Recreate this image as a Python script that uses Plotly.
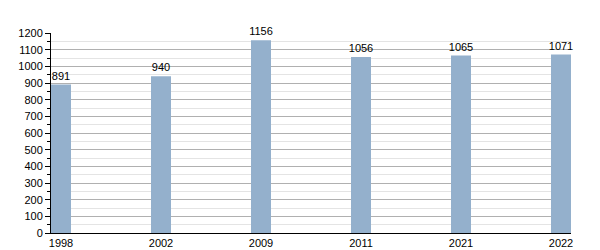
import plotly.graph_objects as go

years = ["1998", "2002", "2009", "2011", "2021", "2022"]
population = [891, 940, 1156, 1056, 1065, 1071]
y_ticks = list(range(0, 1300, 100))

bar_color = "#94b0cc"

fig = go.Figure(
    go.Bar(
        x=years,
        y=population,
        width=0.2,
        marker=dict(color=bar_color, line=dict(width=0)),
        text=[str(v) for v in population],
        textposition="outside",
        constraintext="none",
        cliponaxis=False,
        textfont=dict(family="Liberation Sans, Arial, sans-serif", size=11, color="#000"),
    )
)

fig.update_layout(
    width=600,
    height=250,
    margin=dict(l=51, r=29, t=33, b=17, autoexpand=False),
    paper_bgcolor="white",
    plot_bgcolor="white",
    showlegend=False,
    font=dict(family="Liberation Sans, Arial, sans-serif", size=11, color="#000"),
    xaxis=dict(
        type="category",
        range=[-0.1, 5.1],
        automargin=False,
        showgrid=False,
        showline=True,
        linecolor="#000",
        linewidth=1,
        ticks="",
        tickfont=dict(size=11),
        fixedrange=True,
    ),
    yaxis=dict(
        range=[0, 1200],
        tickvals=y_ticks,
        automargin=False,
        showgrid=True,
        gridcolor="#b0b0b0",
        gridwidth=1,
        showline=True,
        linecolor="#000",
        linewidth=1,
        ticks="outside",
        ticklen=5,
        tickcolor="#000",
        tickfont=dict(size=11),
        zeroline=False,
        minor=dict(
            dtick=50,
            showgrid=True,
            gridcolor="#e4e4e4",
            ticks="outside",
            ticklen=3,
            tickcolor="#000",
        ),
        fixedrange=True,
    ),
)

fig.write_html("out.html")
